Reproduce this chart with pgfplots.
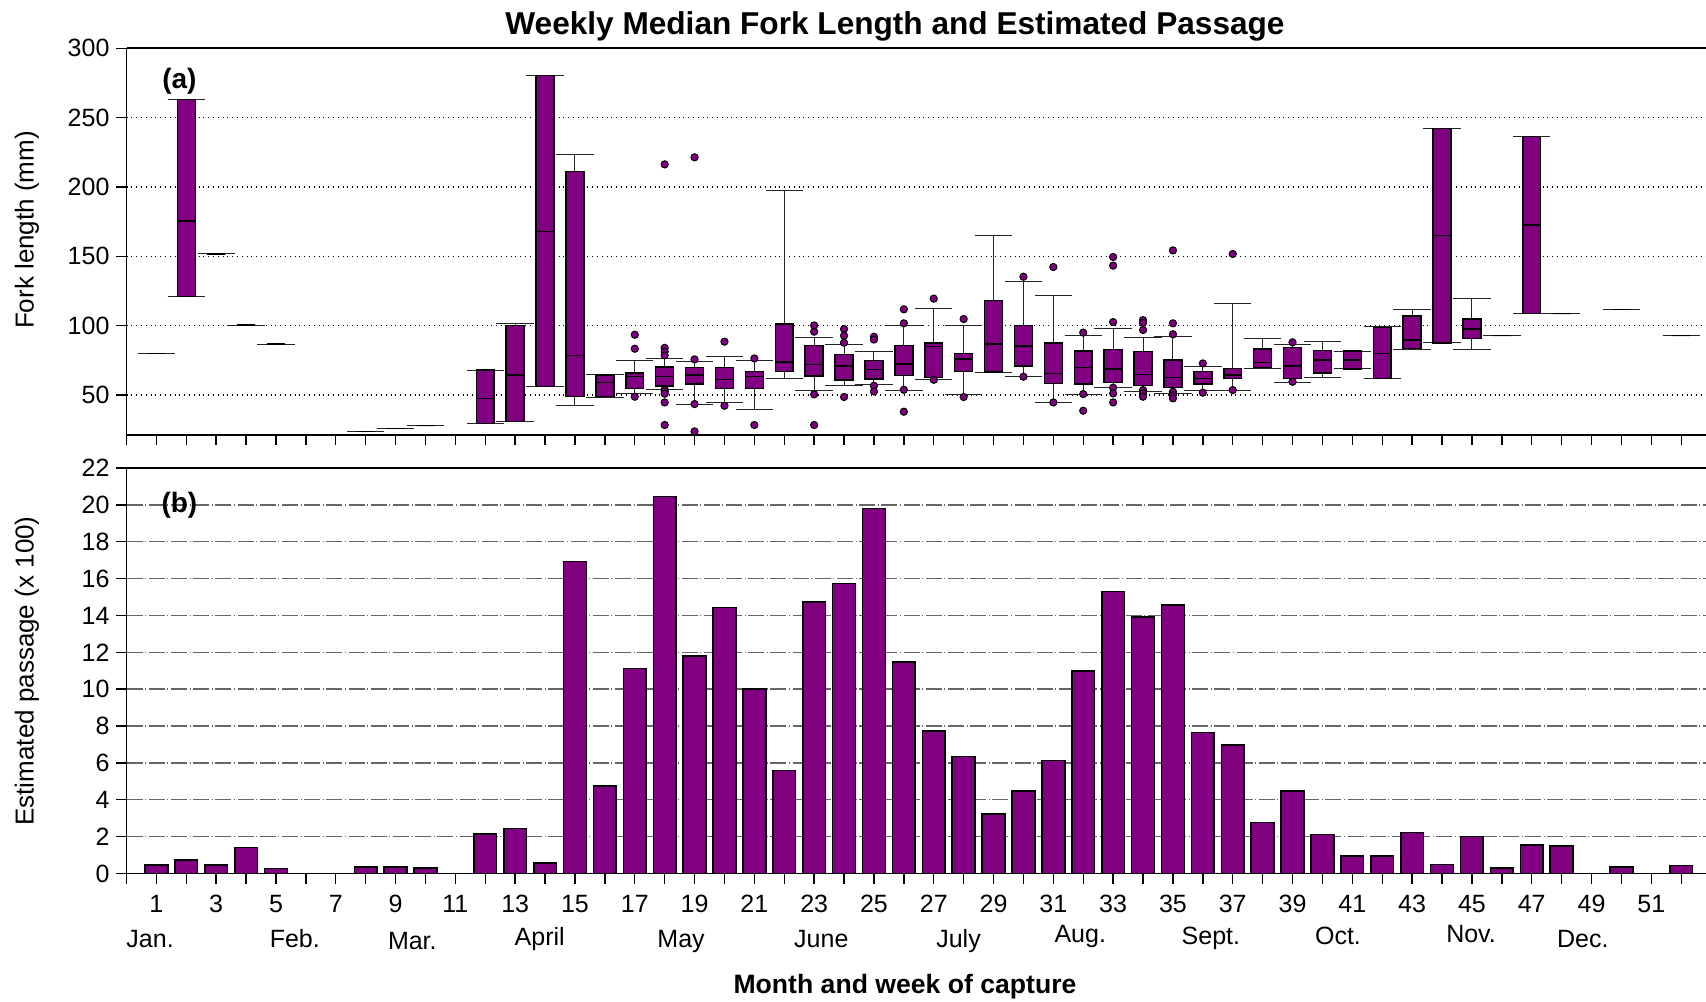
\documentclass[border=0pt]{standalone}
\usepackage{fontspec}
\setmainfont{Liberation Sans}
\usepackage{pgfplots}
\pgfplotsset{compat=1.18}
\usepgfplotslibrary{statistics}
\definecolor{fishpurple}{RGB}{128,0,128}

\pgfplotsset{
  fishbox/.style={
    black, line width=0.6pt,
    mark=*, mark size=1.8pt,
    mark options={fill=fishpurple, draw=black, line width=0.5pt, solid},
    boxplot/draw direction=y,
    boxplot/box extend=0.6,
    boxplot/whisker extend=1.25,
    boxplot/every box/.style={draw=black, fill=fishpurple, line width=0.75pt},
    boxplot/every whisker/.style={draw=black!85, line width=0.5pt},
    boxplot/every median/.style={draw=black, line width=0.6pt},
  },
}
% week, lower whisker, lower quartile, median, upper quartile, upper whisker
\newcommand{\fl}[6]{\addplot[fishbox, boxplot prepared={draw position=#1,
  lower whisker=#2, lower quartile=#3, median=#4, upper quartile=#5,
  upper whisker=#6}] coordinates {};}
% same, followed by the outliers of that week
\newcommand{\flo}[7]{\addplot[fishbox, boxplot prepared={draw position=#1,
  lower whisker=#2, lower quartile=#3, median=#4, upper quartile=#5,
  upper whisker=#6}] table[row sep=\\, y index=0] {v\\ #7};}

\newcommand{\ticksize}{\fontsize{12.5}{15}\selectfont}

\begin{document}
\begin{tikzpicture}
\useasboundingbox (0,0) rectangle (853pt,500.5pt);

% ---------------- (a) fork length ----------------
\begin{axis}[
  at={(63.25pt,283pt)}, anchor=south west,
  width=789.75pt, height=193.35pt, scale only axis,
  xmin=0, xmax=52.83, ymin=21.2, ymax=300,
  axis x line*=box, axis y line*=left,
  xtick={0,...,52}, xticklabels={}, xtick pos=left,
  ytick={50,100,...,300},
  tick align=outside, major tick length=5pt,
  ymajorgrids, major grid style={black, dotted, line width=0.7pt},
  axis line style={black, line width=0.8pt},
  tick style={black, line width=0.7pt},
  yticklabel style={font=\ticksize},
  /pgf/number format/assume math mode=true,
]
\fl{1}{80}{80}{80}{80}{80}
\fl{2}{121}{121}{175.5}{263}{263}
\fl{3}{151.7}{151.7}{151.7}{151.7}{151.7}
\fl{4}{100.5}{100.5}{100.5}{100.5}{100.5}
\fl{5}{86.8}{86.8}{86.8}{86.8}{86.8}
\fl{8}{23.8}{23.8}{23.8}{23.8}{23.8}
\fl{9}{26}{26}{26}{26}{26}
\fl{10}{28}{28}{28}{28}{28}
\fl{12}{29.5}{29.5}{47.5}{68}{68}
\fl{13}{31}{31}{64.4}{100}{101.7}
\fl{14}{56}{56}{168}{280.3}{280.3}
\fl{15}{42.8}{48.8}{78.8}{211}{223.6}
\fl{16}{48}{48.8}{58.9}{64.4}{65}
\flo{17}{50.8}{54.6}{63.5}{66}{74.8}{93.5\\ 83.4\\ 48.8\\}
\flo{18}{54}{56.5}{63.2}{70.4}{76.4}{216.3\\ 84\\ 81.3\\ 78.6\\ 54\\ 52.5\\ 51\\ 44.7\\ 28.4\\}
\flo{19}{43.5}{58}{64.4}{70}{74}{221.4\\ 75.7\\ 43.5\\ 23.8\\}
\flo{20}{44.5}{54.6}{61.3}{69.7}{77.6}{88.5\\ 42.3\\}
\flo{21}{39.7}{54.6}{63.2}{66.8}{74.8}{76.4\\ 28.4\\}
\fl{22}{61.8}{67}{73.8}{101.4}{197.6}
\flo{23}{53.1}{63.7}{71.9}{85.8}{91.6}{100.2\\ 95.7\\ 50.5\\ 28.4\\}
\flo{24}{56.7}{61}{70.9}{79.3}{86.8}{97.6\\ 92.8\\ 87.7\\ 48.6\\}
\flo{25}{57.5}{61.5}{68.3}{75}{81.7}{92\\ 90\\ 56.7\\ 52.6\\}
\flo{26}{53.6}{64.2}{72.4}{85.6}{100.5}{111.8\\ 101.7\\ 53.8\\ 38\\}
\flo{27}{61}{62.5}{84.9}{87.7}{112.7}{119.5\\ 61\\}
\flo{28}{50.7}{66.8}{76}{80}{100.2}{104.8\\ 48.6\\}
\fl{29}{66.1}{66.6}{86.8}{118}{164.7}
\flo{30}{63.2}{70.9}{85.3}{100.2}{132}{135.3\\ 63.2\\}
\flo{31}{44.7}{58.2}{65.6}{87.7}{121.6}{142.3\\ 44.7\\}
\flo{32}{50.7}{58}{69.7}{81.7}{92.8}{95\\ 50.7\\ 38.7\\}
\flo{33}{55.3}{58.9}{68.8}{82.9}{98}{149.5\\ 143.3\\ 102.6\\ 55.3\\ 51.2\\ 44.7\\}
\flo{34}{52.9}{57}{64.9}{81.3}{91.6}{104\\ 102\\ 96.9\\ 53.6\\ 51.2\\ 48.8\\}
\flo{35}{51.2}{55.5}{62.7}{75.2}{92}{154.3\\ 101.7\\ 93.8\\ 52.4\\ 50\\ 47.6\\}
\flo{36}{53.4}{58}{62}{66.8}{70.4}{72.8\\ 51.7\\}
\flo{37}{53.6}{61.8}{64.4}{69}{116}{151.7\\ 53.6\\}
\fl{38}{69}{70}{73.3}{83.2}{90.6}
\flo{39}{58.9}{61.8}{70.9}{84.4}{86.8}{88\\ 59.6\\}
\fl{40}{63}{65.9}{75.2}{82}{88.7}
\fl{41}{68.8}{68.8}{75.2}{81.7}{81.7}
\fl{42}{61.8}{61.8}{80}{98.8}{99.3}
\fl{43}{83}{83.7}{89.7}{107}{111.8}
\fl{44}{87.7}{87.7}{164.9}{242.3}{242.3}
\fl{45}{83}{90.6}{97.6}{104.8}{119.7}
\fl{46}{92.8}{92.8}{92.8}{92.8}{92.8}
\fl{47}{108.7}{108.7}{172.6}{236.3}{236.3}
\fl{48}{108.7}{108.7}{108.7}{108.7}{108.7}
\fl{50}{111.8}{111.8}{111.8}{111.8}{111.8}
\fl{52}{92.8}{92.8}{92.8}{92.8}{92.8}
\node[font=\bfseries\fontsize{14}{17}\selectfont] at (axis cs:1.77,276) {(a)};
\end{axis}

% ---------------- (b) estimated passage ----------------
\begin{axis}[
  at={(63.25pt,63.75pt)}, anchor=south west,
  width=789.75pt, height=202.75pt, scale only axis,
  xmin=0, xmax=52.83, ymin=0, ymax=22,
  axis x line*=box, axis y line*=left,
  xtick={0,...,52}, xtick pos=left,
  xticklabels={,1,,3,,5,,7,,9,,11,,13,,15,,17,,19,,21,,23,,25,,27,,29,,31,,33,,35,,37,,39,,41,,43,,45,,47,,49,,51,},
  xticklabel style={font=\ticksize, anchor=base, yshift=-14.5pt},
  ytick={0,2,...,22},
  tick align=outside, major tick length=5pt,
  ymajorgrids, major grid style={black!60, line width=0.7pt,
    dash pattern=on 8pt off 1.3pt on 0.5pt off 1.3pt},
  axis line style={black, line width=0.8pt},
  tick style={black, line width=0.7pt},
  yticklabel style={font=\ticksize},
  /pgf/number format/assume math mode=true,
  clip=false,
]
\addplot[ybar, bar width=0.76, bar shift=0pt, fill=fishpurple, draw=black,
  line width=0.8pt] coordinates {
  (1,0.46) (2,0.73) (3,0.46) (4,1.41) (5,0.27)
  (8,0.35) (9,0.35) (10,0.31)
  (12,2.15) (13,2.44) (14,0.58) (15,16.92) (16,4.74) (17,11.12) (18,20.46)
  (19,11.8) (20,14.43) (21,10.0) (22,5.59) (23,14.72) (24,15.74) (25,19.81)
  (26,11.49) (27,7.72) (28,6.34) (29,3.23) (30,4.47) (31,6.13) (32,10.99)
  (33,15.3) (34,13.9) (35,14.58) (36,7.66) (37,6.96) (38,2.77) (39,4.47)
  (40,2.11) (41,0.95) (42,0.95) (43,2.22) (44,0.48) (45,2.01) (46,0.31)
  (47,1.55) (48,1.49) (50,0.35) (52,0.43)
};
\node[font=\bfseries\fontsize{14}{17}\selectfont] at (axis cs:1.77,20) {(b)};
% month names under the week numbers
\begin{scope}[every node/.style={anchor=base, font=\ticksize}]
\node at (axis cs:0.79,-4.03) {Jan.};
\node at (axis cs:5.63,-4.03) {Feb.};
\node at (axis cs:9.56,-4.14) {Mar.};
\node at (axis cs:13.82,-3.89) {April};
\node at (axis cs:18.55,-4.03) {May};
\node at (axis cs:23.24,-3.99) {June};
\node at (axis cs:27.83,-3.99) {July};
\node at (axis cs:31.9,-3.75) {Aug.};
\node at (axis cs:36.27,-3.84) {Sept.};
\node at (axis cs:40.52,-3.84) {Oct.};
\node at (axis cs:44.97,-3.75) {Nov.};
\node at (axis cs:48.71,-4.0) {Dec.};
\end{scope}
\end{axis}

% titles and axis labels
\node[anchor=base, font=\bfseries\fontsize{15.8}{19}\selectfont] at (447.5pt,483pt)
  {Weekly Median Fork Length and Estimated Passage};
\node[anchor=base, font=\bfseries\fontsize{13.3}{16}\selectfont] at (452.5pt,4pt)
  {Month and week of capture};
\node[rotate=90, font=\fontsize{13}{16}\selectfont] at (13.4pt,385.5pt) {Fork length (mm)};
\node[rotate=90, font=\fontsize{13}{16}\selectfont] at (13.4pt,165pt) {Estimated passage (x 100)};
\end{tikzpicture}
\end{document}
